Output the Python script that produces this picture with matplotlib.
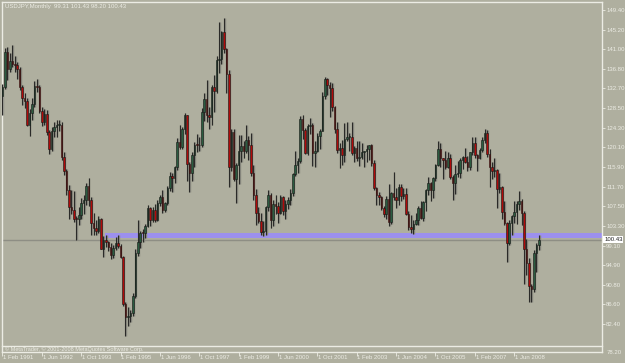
import matplotlib.pyplot as plt

# USDJPY monthly candles, Feb 1991 .. Apr 2009
opens = [
    # 1991 (Feb-Dec)
    131.0, 132.9, 140.5, 136.9, 138.6, 137.9, 137.6, 136.8, 132.9, 130.6, 129.9,
    # 1992
    124.9, 127.4, 129.3, 133.1, 133.0, 127.9, 125.6, 127.3, 123.3, 119.8, 123.6, 124.5,
    # 1993
    124.9, 124.9, 118.0, 115.0, 111.1, 107.3, 106.8, 104.9, 104.8, 105.7, 108.3, 108.9,
    # 1994
    111.9, 108.9, 104.0, 102.8, 102.3, 104.8, 98.5, 100.3, 99.9, 98.9, 97.2, 98.6,
    # 1995
    99.6, 99.0, 96.6, 86.7, 84.0, 84.1, 84.7, 88.4, 97.5, 99.8, 101.9, 101.8,
    # 1996
    103.4, 107.1, 104.7, 106.7, 104.6, 108.2, 109.6, 106.8, 108.3, 111.4, 114.0, 113.5,
    # 1997
    115.9, 121.3, 120.2, 124.0, 126.9, 116.5, 114.6, 118.4, 120.7, 120.6, 120.5, 127.7,
    # 1998
    130.5, 126.9, 126.5, 133.0, 132.2, 138.7, 138.9, 144.7, 141.0, 135.8, 116.0, 123.3,
    # 1999
    113.4, 116.3, 119.4, 120.4, 119.4, 121.6, 120.7, 114.6, 110.0, 106.0, 104.4, 102.0,
    # 2000
    102.2, 107.3, 109.9, 104.6, 108.1, 107.6, 106.0, 109.6, 106.6, 108.0, 108.8, 110.4,
    # 2001
    114.4, 116.3, 117.2, 126.1, 123.7, 118.8, 124.7, 124.8, 118.9, 119.4, 122.5, 123.6,
    # 2002
    131.0, 134.7, 133.5, 132.7, 128.6, 124.0, 119.6, 119.9, 118.5, 121.8, 122.4, 122.4,
    # 2003
    118.8, 119.9, 117.8, 118.1, 119.0, 119.4, 119.8, 120.6, 116.8, 111.5, 109.9, 109.5,
    # 2004
    107.2, 105.9, 109.1, 104.2, 110.4, 109.5, 108.8, 111.6, 109.7, 110.1, 105.8, 103.1,
    # 2005
    102.6, 103.7, 104.6, 107.1, 105.0, 108.4, 110.9, 112.5, 111.0, 113.5, 116.4, 119.8,
    # 2006
    117.8, 117.3, 115.8, 117.8, 113.8, 112.5, 114.4, 114.6, 117.3, 118.1, 116.9, 115.8,
    # 2007
    119.0, 121.0, 118.5, 117.8, 119.6, 121.7, 123.2, 118.6, 115.8, 115.0, 115.3, 111.2,
    # 2008
    111.7, 106.4, 103.9, 99.7, 104.0, 105.5, 106.2, 108.0, 108.7, 106.0, 98.5, 95.5,
    # 2009 (Jan-Apr)
    90.6, 89.9, 97.6, 99.31,
]
highs = [
    133.6, 141.2, 141.6, 140.2, 142.0, 139.6, 138.3, 137.3, 133.5, 131.6, 130.6,
    128.3, 130.6, 134.3, 134.6, 133.5, 128.6, 128.3, 128.0, 123.8, 124.4, 125.5, 126.0,
    126.0, 125.4, 119.0, 115.4, 112.0, 111.0, 110.8, 105.5, 107.3, 109.3, 109.9, 112.4,
    113.6, 109.4, 106.0, 104.6, 105.5, 105.1, 101.2, 101.4, 100.2, 99.6, 99.3, 100.9,
    101.5, 99.5, 97.0, 87.0, 86.0, 85.3, 89.0, 98.4, 104.6, 102.2, 102.6, 103.8,
    107.8, 107.3, 107.3, 108.0, 108.8, 110.0, 111.1, 108.5, 111.8, 114.9, 114.6, 116.2,
    122.0, 124.8, 124.4, 127.4, 127.0, 117.0, 119.2, 121.3, 123.0, 122.3, 128.4, 131.6,
    134.5, 128.6, 133.3, 135.6, 139.5, 146.8, 144.9, 147.7, 141.4, 136.5, 124.1, 124.0,
    116.7, 122.8, 122.7, 121.4, 124.8, 122.5, 123.2, 116.4, 111.3, 107.4, 106.0, 104.3,
    107.6, 111.1, 110.4, 108.8, 110.0, 108.4, 109.9, 109.8, 108.8, 109.5, 111.2, 114.6,
    119.4, 117.9, 126.8, 126.9, 124.3, 125.0, 126.4, 125.2, 121.5, 123.2, 124.0, 131.9,
    135.2, 135.0, 134.0, 133.9, 128.9, 125.5, 121.1, 121.7, 125.3, 125.6, 123.1, 125.6,
    120.3, 121.5, 121.5, 121.0, 119.3, 120.5, 120.7, 120.8, 117.4, 111.7, 110.6, 109.7,
    107.5, 109.8, 112.2, 110.5, 114.9, 111.4, 112.2, 112.3, 111.4, 111.5, 106.5, 105.6,
    104.5, 106.0, 107.5, 108.6, 108.6, 111.2, 113.7, 112.8, 113.7, 116.5, 121.4, 121.0,
    117.9, 119.4, 119.0, 118.7, 114.3, 116.4, 117.1, 117.8, 118.3, 119.9, 118.2, 119.1,
    122.2, 122.2, 118.7, 120.0, 122.2, 124.1, 123.7, 119.7, 117.0, 117.9, 115.5, 114.7,
    111.9, 108.7, 104.1, 104.6, 105.7, 108.6, 108.6, 110.7, 109.0, 106.6, 100.6, 96.5,
    91.0, 98.3, 99.7, 101.43,
]
lows = [
    127.1, 132.5, 134.5, 136.2, 137.3, 136.2, 134.7, 132.4, 129.2, 128.5, 124.7,
    122.6, 126.0, 128.7, 131.8, 127.4, 124.6, 124.9, 122.8, 118.6, 119.3, 122.4, 122.4,
    123.6, 117.5, 114.1, 109.9, 104.9, 105.9, 104.1, 100.4, 103.5, 104.9, 105.9, 107.9,
    107.6, 101.5, 101.5, 101.5, 101.9, 98.4, 96.6, 98.8, 97.9, 96.3, 96.5, 98.2,
    98.6, 96.5, 86.2, 79.8, 82.0, 82.9, 84.2, 88.0, 97.0, 98.7, 99.8, 100.7,
    103.0, 103.3, 104.2, 104.1, 104.4, 107.5, 106.0, 106.3, 107.8, 110.8, 110.6, 112.5,
    115.2, 119.8, 119.8, 123.0, 113.0, 110.6, 112.9, 115.9, 119.1, 119.4, 120.2, 125.7,
    125.6, 124.1, 124.9, 127.6, 131.7, 135.9, 137.8, 140.3, 131.6, 111.6, 115.0, 112.9,
    108.3, 112.3, 116.9, 117.8, 118.9, 117.3, 114.0, 108.8, 103.6, 103.9, 101.4, 101.2,
    101.4, 106.5, 102.8, 103.4, 105.8, 103.9, 105.9, 105.6, 104.9, 107.0, 107.9, 109.8,
    114.0, 114.6, 116.8, 121.9, 118.7, 118.4, 123.0, 116.1, 115.8, 119.1, 119.8, 123.5,
    130.4, 131.3, 126.5, 127.9, 123.1, 118.9, 115.6, 116.4, 116.9, 121.5, 119.4, 118.4,
    116.9, 117.2, 116.2, 117.7, 115.9, 116.9, 117.5, 116.2, 110.9, 107.9, 107.8, 106.8,
    105.2, 104.9, 103.4, 103.7, 108.8, 107.1, 107.9, 108.7, 109.1, 105.6, 102.4, 101.9,
    101.7, 103.5, 103.6, 104.8, 104.4, 106.6, 109.9, 108.7, 109.3, 113.0, 116.1, 115.9,
    113.4, 115.4, 115.6, 113.4, 108.9, 110.1, 113.7, 113.6, 115.4, 116.8, 115.0, 115.3,
    118.4, 117.8, 115.1, 117.6, 119.0, 121.1, 118.1, 111.6, 113.3, 113.7, 107.2, 110.4,
    104.9, 103.6, 95.7, 99.2, 101.4, 103.9, 103.8, 106.8, 103.5, 90.9, 92.8, 87.1,
    87.1, 89.2, 93.5, 98.20,
]
closes = [
    132.9, 140.5, 136.9, 138.6, 137.9, 137.6, 136.8, 132.9, 130.6, 129.9, 124.9,
    127.4, 129.3, 133.1, 133.0, 127.9, 125.6, 127.3, 123.3, 119.8, 123.6, 124.5, 124.9,
    124.9, 118.0, 115.0, 111.1, 107.3, 106.8, 104.9, 104.8, 105.7, 108.3, 108.9, 111.9,
    108.9, 104.0, 102.8, 102.3, 104.8, 98.5, 100.3, 99.9, 98.9, 97.2, 98.6, 99.6,
    99.0, 96.6, 86.7, 84.0, 84.1, 84.7, 88.4, 97.5, 99.8, 101.9, 101.8, 103.4,
    107.1, 104.7, 106.7, 104.6, 108.2, 109.6, 106.8, 108.3, 111.4, 114.0, 113.5, 115.9,
    121.3, 120.2, 124.0, 126.9, 116.5, 114.6, 118.4, 120.7, 120.6, 120.5, 127.7, 130.5,
    126.9, 126.5, 133.0, 132.2, 138.7, 138.9, 144.7, 141.0, 135.8, 116.0, 123.3, 113.4,
    116.3, 119.4, 120.4, 119.4, 121.6, 120.7, 114.6, 110.0, 106.0, 104.4, 102.0, 102.2,
    107.3, 109.9, 104.6, 108.1, 107.6, 106.0, 109.6, 106.6, 108.0, 108.8, 110.4, 114.4,
    116.3, 117.2, 126.1, 123.7, 118.8, 124.7, 124.8, 118.9, 119.4, 122.5, 123.6, 131.0,
    134.7, 133.5, 132.7, 128.6, 124.0, 119.6, 119.9, 118.5, 121.8, 122.4, 122.4, 118.8,
    119.9, 117.8, 118.1, 119.0, 119.4, 119.8, 120.6, 116.8, 111.5, 109.9, 109.5, 107.2,
    105.9, 109.1, 104.2, 110.4, 109.5, 108.8, 111.6, 109.7, 110.1, 105.8, 103.1, 102.6,
    103.7, 104.6, 107.1, 105.0, 108.4, 110.9, 112.5, 111.0, 113.5, 116.4, 119.8, 117.8,
    117.3, 115.8, 117.8, 113.8, 112.5, 114.4, 114.6, 117.3, 118.1, 116.9, 115.8, 119.0,
    121.0, 118.5, 117.8, 119.6, 121.7, 123.2, 118.6, 115.8, 115.0, 115.3, 111.2, 111.7,
    106.4, 103.9, 99.7, 104.0, 105.5, 106.2, 108.0, 108.7, 106.0, 98.5, 95.5, 90.6,
    89.9, 97.6, 99.31, 100.43,
]

date_labels = ['1 Feb 1991', '1 Jun 1992', '1 Oct 1993', '1 Feb 1995', '1 Jun 1996',
               '1 Oct 1997', '1 Feb 1999', '1 Jun 2000', '1 Oct 2001', '1 Feb 2003',
               '1 Jun 2004', '1 Oct 2005', '1 Feb 2007', '1 Jun 2008']
date_step = 16  # months between date labels
price_ticks = [149.40, 145.20, 141.00, 136.80, 132.70, 128.50, 124.30, 120.10, 115.90,
               111.70, 107.50, 103.30, 99.10, 94.90, 90.80, 86.60, 82.40]
bottom_label = '78.20'
last_price = 100.43
zone_low, zone_high, zone_start = 100.75, 101.82, 41.7
header = 'USDJPY,Monthly  99.31 101.43 98.20 100.43'
copyright_txt = '\u00a9 MetaTrader, \u00a9 2001-2008 MetaQuotes Software Corp.'

bg = '#afaf9f'
fg = '#ecece4'
plt.rcParams['font.family'] = ['Liberation Sans', 'DejaVu Sans']

fig = plt.figure(figsize=(6.25, 3.63), dpi=100, facecolor=bg)
ax = fig.add_axes([2 / 625, 11 / 363, 600 / 625, 350 / 363])
ax.set_facecolor(bg)
ax.set_xlim(-0.2, 243.7)
ax.set_ylim(76.43, 151.11)

# zone rectangle and bid line
ax.fill_between([zone_start, 243.7], zone_low, zone_high, color='#9c90ee', lw=0, zorder=1)
ax.axhline(last_price, color='#8e8e84', lw=1, zorder=1)

# candles
xs = list(range(len(closes)))
ax.vlines([x + 0.35 for x in xs], lows, highs, color='#8a8a80', lw=1.0, zorder=2)
ax.vlines(xs, lows, highs, color='#2a2a28', lw=0.8, zorder=3)
bottoms = [min(o, c) for o, c in zip(opens, closes)]
heights = [max(abs(c - o), 0.15) for o, c in zip(opens, closes)]
colors = ['#2b5c40' if c >= o else '#b00a0a' for o, c in zip(opens, closes)]
ax.bar(xs, heights, bottom=bottoms, width=0.62, color=colors,
       edgecolor='#161614', linewidth=0.4, zorder=4)

# frame
for side in ['left', 'top', 'right', 'bottom']:
    ax.spines[side].set_color(fg)
    ax.spines[side].set_linewidth(1.0)
ax.plot([0, 1], [6 / 350, 6 / 350], transform=ax.transAxes, color=fg, lw=1.0,
        clip_on=False, zorder=5)

# price axis
ax.yaxis.tick_right()
ax.set_yticks(price_ticks)
ax.set_yticklabels(['%.2f' % p for p in price_ticks])
ax.tick_params(axis='y', direction='out', length=2, width=0.6, color=fg,
               labelcolor=fg, labelsize=4.3, pad=1)
ax.annotate(bottom_label, xy=(1, 0), xycoords='axes fraction', xytext=(3, 0),
            textcoords='offset points', ha='left', va='center', fontsize=4.3, color=fg)
ax.annotate('%.2f' % last_price, xy=(1, last_price),
            xycoords=('axes fraction', 'data'), xytext=(1.5, 0),
            textcoords='offset points', ha='left', va='center', fontsize=4.3,
            color='#202020', bbox=dict(boxstyle='square,pad=0.15', fc='white', ec='none'))

# time axis
date_pos = [k * date_step for k in range(len(date_labels))]
ax.set_xticks(date_pos)
ax.set_xticklabels([])
ax.tick_params(axis='x', direction='out', length=3, width=0.6, color=fg)
for pos, lab in zip(date_pos, date_labels):
    ax.annotate(lab, xy=(pos, 0), xycoords=('data', 'axes fraction'),
                xytext=(0.5, -2.2), textcoords='offset points', ha='left', va='top',
                fontsize=4.3, color=fg)

ax.annotate(header, xy=(0, 1), xycoords='axes fraction', xytext=(2, -1.5),
            textcoords='offset points', ha='left', va='top', fontsize=4.3, color=fg)
ax.annotate(copyright_txt, xy=(0, 0), xycoords='axes fraction', xytext=(2, 0.3),
            textcoords='offset points', ha='left', va='bottom', fontsize=4.0, color=fg)

fig.savefig('out.png', dpi=100, facecolor=bg)
